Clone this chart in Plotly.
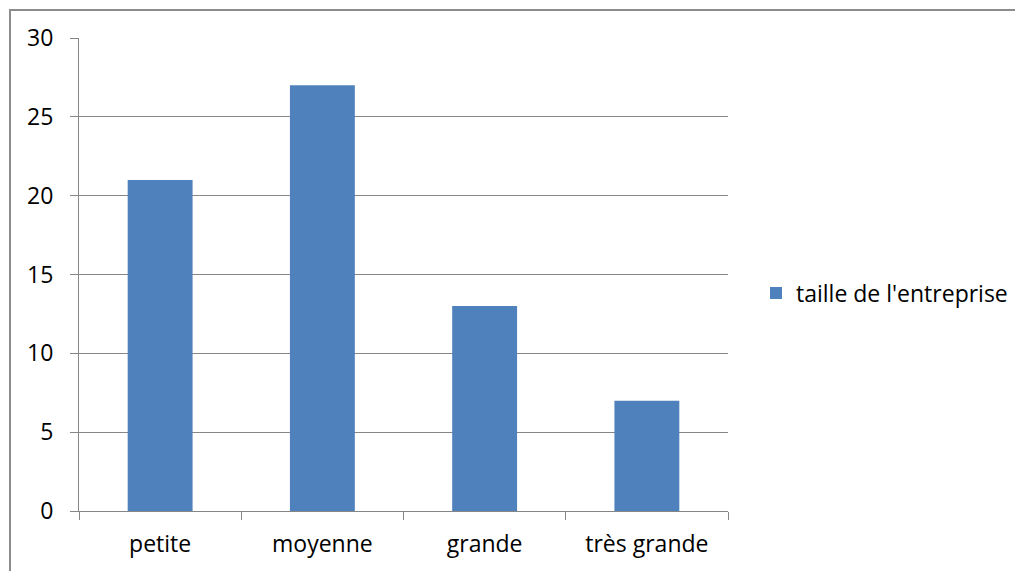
import plotly.graph_objects as go

categories = ["petite", "moyenne", "grande", "très grande"]
values = [21, 27, 13, 7]
series_name = "taille de l'entreprise"
y_ticks = [0, 5, 10, 15, 20, 25, 30]

OFF = 8  # page body margin
W, H = 1023, 571
L, R, T, B = 79 - OFF, 728 - OFF, 38 - OFF, 511 - OFF
pw, ph = R - L, B - T

def px_x(x):
    return (x - OFF - L) / pw

def px_y(y):
    return (B - (y - OFF)) / ph

fig = go.Figure()
fig.add_trace(go.Bar(x=categories, y=values, name=series_name,
                     marker=dict(color="#4F81BD", line=dict(width=0)),
                     showlegend=True))

fig.update_layout(
    width=W, height=H,
    margin=dict(l=L, r=W - R, t=T, b=H - B, pad=0),
    paper_bgcolor="white", plot_bgcolor="white",
    font=dict(family="Open Sans, Liberation Sans, sans-serif", size=23, color="#000000"),
    bargap=0.6,
    showlegend=True,
    legend=dict(x=px_x(756), y=px_y(293), xanchor="left", yanchor="middle",
                font=dict(size=23), bgcolor="rgba(0,0,0,0)"),
    shapes=[dict(type="rect", xref="paper", yref="paper",
                 x0=px_x(10), x1=px_x(1060), y0=px_y(600), y1=px_y(10),
                 line=dict(color="#8C8C8C", width=2), layer="below")],
)
fig.update_xaxes(type="category", showgrid=False, showline=True, linecolor="#868686",
                 linewidth=1, ticks="outside", tickson="boundaries", ticklen=8,
                 tickcolor="#868686", ticklabelstandoff=12, zeroline=False)
fig.update_yaxes(range=[0, 30], tickvals=y_ticks, showgrid=True, gridcolor="#868686",
                 gridwidth=1, showline=True, linecolor="#868686", linewidth=1,
                 ticks="outside", ticklen=8, tickcolor="#868686",
                 ticklabelstandoff=12, zeroline=False)

fig.write_html("out.html")
